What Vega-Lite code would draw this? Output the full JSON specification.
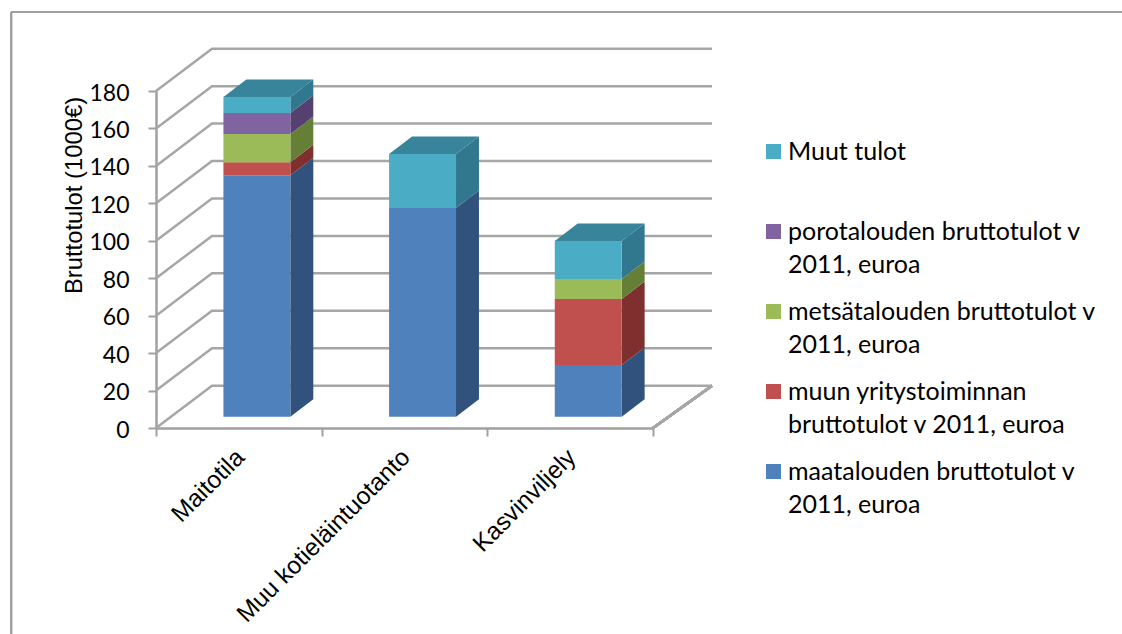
{
"$schema":"https://vega.github.io/schema/vega-lite/v6.json",
"width":497,"height":337,
"autosize":{"type":"none"},
"padding":{"left":156,"top":91,"right":469,"bottom":206},
"background":"white",
"config":{"view":{"stroke":null}},
"datasets":{
"income":[
{"category":"Maitotila","series":"maatalouden bruttotulot v 2011, euroa","value":129},
{"category":"Maitotila","series":"muun yritystoiminnan bruttotulot v 2011, euroa","value":7},
{"category":"Maitotila","series":"metsätalouden bruttotulot v 2011, euroa","value":15},
{"category":"Maitotila","series":"porotalouden bruttotulot v 2011, euroa","value":11.2},
{"category":"Maitotila","series":"Muut tulot","value":8.6},
{"category":"Muu kotieläintuotanto","series":"maatalouden bruttotulot v 2011, euroa","value":111.5},
{"category":"Muu kotieläintuotanto","series":"Muut tulot","value":28.8},
{"category":"Kasvinviljely","series":"maatalouden bruttotulot v 2011, euroa","value":27.6},
{"category":"Kasvinviljely","series":"muun yritystoiminnan bruttotulot v 2011, euroa","value":35.3},
{"category":"Kasvinviljely","series":"metsätalouden bruttotulot v 2011, euroa","value":10.7},
{"category":"Kasvinviljely","series":"Muut tulot","value":20.3}
],
"ticks":[{"tick":0},{"tick":20},{"tick":40},{"tick":60},{"tick":80},{"tick":100},{"tick":120},{"tick":140},{"tick":160},{"tick":180}]
},
"data":{"name":"income"},
"transform":[
{"calculate":"indexof(['maatalouden bruttotulot v 2011, euroa','muun yritystoiminnan bruttotulot v 2011, euroa','metsätalouden bruttotulot v 2011, euroa','porotalouden bruttotulot v 2011, euroa','Muut tulot'],datum.series)","as":"rank"},
{"calculate":"indexof(['Maitotila','Muu kotieläintuotanto','Kasvinviljely'],datum.category)","as":"idx"},
{"stack":"value","groupby":["category"],"sort":[{"field":"rank","order":"ascending"}],"as":["v0","v1"]},
{"calculate":"datum.idx+0.407","as":"xl"},
{"calculate":"datum.idx+0.811","as":"xr"},
{"calculate":"datum.v0+6","as":"f0"},
{"calculate":"datum.v1+6","as":"f1"}
],
"layer":[
{"mark":{"type":"rule","color":"#A0A0A0","strokeWidth":2},
 "encoding":{"x":{"datum":-0.875,"type":"quantitative","scale":{"domain":[0,3]},"axis":null},"y":{"datum":222.2,"type":"quantitative","scale":{"domain":[0,180]},"axis":null},"y2":{"datum":-110}}},
{"mark":{"type":"rule","color":"#A0A0A0","strokeWidth":2},
 "encoding":{"x":{"datum":-0.875,"type":"quantitative","scale":{"domain":[0,3]},"axis":null},"x2":{"datum":5.84},"y":{"datum":222.2,"type":"quantitative","scale":{"domain":[0,180]},"axis":null}}},
{"data":{"name":"ticks"},
 "transform":[{"calculate":"[0,1,2]","as":"ts"},{"flatten":["ts"],"as":["t"]},{"calculate":"[0,0.338,3.356][datum.t]","as":"px"},{"calculate":"datum.tick+[0,22.6,22.6][datum.t]","as":"py"}],
 "mark":{"type":"line","color":"#A6A6A6","strokeWidth":2.5,"interpolate":"linear"},
 "encoding":{"x":{"field":"px","type":"quantitative","scale":{"domain":[0,3]},"axis":null},"y":{"field":"py","type":"quantitative","scale":{"domain":[0,180]},"axis":null},"detail":{"field":"tick"}}},
{"mark":{"type":"rule","color":"#A6A6A6","strokeWidth":2.5},
 "encoding":{"x":{"datum":3,"type":"quantitative","scale":{"domain":[0,3]},"axis":null},"x2":{"datum":3.356},"y":{"datum":0,"type":"quantitative","scale":{"domain":[0,180]},"axis":null},"y2":{"datum":22.6}}},
{"transform":[{"calculate":"[0,1]","as":"ts"},{"flatten":["ts"],"as":["t"]},{"calculate":"datum.xr+datum.t*0.1385","as":"px"},{"calculate":"datum.f0+datum.t*9.35","as":"lo"},{"calculate":"datum.f1+datum.t*9.35","as":"hi"}],
 "mark":{"type":"area","orient":"vertical"},
 "encoding":{"x":{"field":"px","type":"quantitative","scale":{"domain":[0,3]},"axis":null},"y":{"field":"lo","type":"quantitative","stack":null,"scale":{"domain":[0,180]},"axis":null},"y2":{"field":"hi"},"detail":{"field":"category"},
  "color":{"field":"series","type":"nominal","legend":null,"scale":{"domain":["Muut tulot","porotalouden bruttotulot v 2011, euroa","metsätalouden bruttotulot v 2011, euroa","muun yritystoiminnan bruttotulot v 2011, euroa","maatalouden bruttotulot v 2011, euroa"],"range":["#31788F","#55406F","#667F36","#7F2F2D","#31527C"]}}}},
{"transform":[{"joinaggregate":[{"op":"max","field":"v1","as":"m"}],"groupby":["category"]},{"filter":"datum.v1==datum.m"},{"calculate":"[0,1,2,3]","as":"ts"},{"flatten":["ts"],"as":["t"]},{"calculate":"[datum.xl,datum.xl+0.1385,datum.xr,datum.xr+0.1385][datum.t]","as":"px"},{"calculate":"datum.t==3?datum.f1+9.35:datum.f1","as":"lo"},{"calculate":"datum.t==0?datum.f1:datum.f1+9.35","as":"hi"}],
 "mark":{"type":"area","orient":"vertical","color":"#37849B"},
 "encoding":{"x":{"field":"px","type":"quantitative","scale":{"domain":[0,3]},"axis":null},"y":{"field":"lo","type":"quantitative","stack":null,"scale":{"domain":[0,180]},"axis":null},"y2":{"field":"hi"},"detail":{"field":"category"}}},
{"mark":{"type":"rect"},
 "encoding":{
  "x":{"field":"xl","type":"quantitative","scale":{"domain":[0,3]},
   "axis":{"title":null,"grid":false,"values":[0,0.5,1,1.5,2,2.5,3],"domainColor":"#A0A0A0","domainWidth":2.5,"tickColor":"#A0A0A0","tickWidth":2,"tickSize":8,
    "tickOpacity":{"condition":{"test":"datum.value%1==0","value":1},"value":0},
    "labelExpr":"datum.value==0.5?'Maitotila':datum.value==1.5?'Muu kotieläintuotanto':datum.value==2.5?'Kasvinviljely':''",
    "labelAngle":-45,"labelAlign":"right","labelBaseline":"top","labelFont":"Liberation Sans","labelFontSize":24.5,"labelColor":"#000","labelPadding":9,"labelOffset":-7,"labelOverlap":false,"labelLimit":0,"labelBound":false,"labelFlush":false}},
  "x2":{"field":"xr"},
  "y":{"field":"f0","type":"quantitative","stack":null,"scale":{"domain":[0,180]},
   "axis":{"title":"Bruttotulot (1000€)","titleFont":"Liberation Sans","titleFontSize":23.8,"titleFontWeight":"normal","titleColor":"#000","titleX":-70,"titleY":104,"grid":false,"values":[0,20,40,60,80,100,120,140,160,180],"domainColor":"#A0A0A0","domainWidth":2.5,"tickColor":"#A0A0A0","tickWidth":2,"tickSize":8,"labelFont":"Lato","labelFontSize":23,"labelColor":"#000","labelPadding":19,"labelOffset":2,"labelLimit":0}},
  "y2":{"field":"f1"},
  "color":{"field":"series","type":"nominal","scale":{"domain":["Muut tulot","porotalouden bruttotulot v 2011, euroa","metsätalouden bruttotulot v 2011, euroa","muun yritystoiminnan bruttotulot v 2011, euroa","maatalouden bruttotulot v 2011, euroa"],"range":["#4BACC6","#8064A2","#9BBB59","#C0504D","#4F81BD"]},
   "legend":{"title":null,"orient":"none","legendX":605,"legendY":48,"symbolType":"square","symbolSize":225,"symbolStrokeWidth":0,"symbolOpacity":1,"labelFont":"Lato","labelFontSize":25,"labelColor":"#000","labelLimit":0,"labelOffset":2,"labelBaseline":"middle","gridAlign":"all","rowPadding":21,"columns":1,
    "labelExpr":"datum.label=='Muut tulot'?datum.label:datum.label=='porotalouden bruttotulot v 2011, euroa'?['porotalouden bruttotulot v','2011, euroa']:datum.label=='metsätalouden bruttotulot v 2011, euroa'?['metsätalouden bruttotulot v','2011, euroa']:datum.label=='muun yritystoiminnan bruttotulot v 2011, euroa'?['muun yritystoiminnan','bruttotulot v 2011, euroa']:['maatalouden bruttotulot v','2011, euroa']",
    "encoding":{"labels":{"lineHeight":{"value":33}}}}}
 }}
],
"resolve":{"scale":{"color":"independent"},"axis":{"x":"independent","y":"independent"}}
}
